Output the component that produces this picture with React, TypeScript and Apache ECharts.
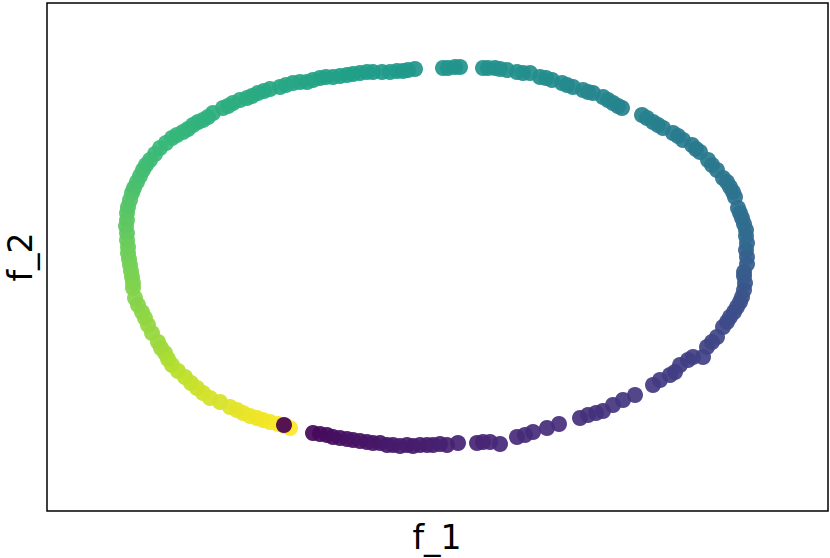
import React, { useEffect, useRef } from "react";
import * as echarts from "echarts";

// f_1 coordinate of each point (arbitrary embedding units)
const f1Values = [
  -124, -117, -110, -104, -97, -90, -84, -77, -70, -64, -57, -50, -44, -37, -30, -24, -17, -10, -4, 3,
  10, 21, 40, 46, 53, 63, 80, 88, 96, 110, 122, 143, 151, 159, 166, 176, 186, 198, 216, 223,
  233, 238, 243, 251, 256, 266, 270, 275, 280, 286, 290, 293, 297, 300, 303, 305, 307, 308, 307, 307,
  310, 310, 309, 310, 309, 309, 307, 305, 303, 301, 298, 296, 293, 290, 286, 280, 275, 271, 263, 259,
  255, 246, 241, 236, 226, 221, 216, 210, 205, 185, 181, 176, 171, 166, 156, 151, 146, 136, 130, 125,
  115, 109, 103, 93, 86, 80, 70, 63, 58, 51, 46, 23, 18, 11, 6, -22, -29, -34, -40, -47,
  -55, -64, -70, -77, -84, -90, -97, -104, -111, -117, -124, -130, -137, -144, -151, -157, -167, -173, -179, -185,
  -190, -197, -204, -209, -214, -224, -229, -234, -239, -244, -249, -254, -260, -265, -271, -277, -282, -287, -291, -294,
  -297, -300, -303, -305, -307, -309, -310, -310, -311, -310, -310, -309, -309, -308, -307, -306, -305, -304, -304, -302,
  -299, -295, -292, -289, -285, -279, -276, -272, -269, -265, -259, -252, -246, -240, -234, -227, -217, -207, -200, -194,
  -187, -180, -174, -167, -159, -152, -147, -153,
];
// f_2 coordinate of each point
const f2Values = [
  -176, -177, -178, -180, -181, -182, -183, -184, -185, -186, -186, -188, -188, -189, -188, -189, -188, -188, -188, -187,
  -188, -186, -186, -185, -185, -187, -180, -178, -175, -171, -167, -161, -158, -156, -154, -148, -143, -138, -128, -123,
  -118, -115, -108, -103, -100, -100, -90, -85, -80, -70, -65, -60, -55, -50, -45, -40, -33, -26, -19, -15,
  -7, 0, 7, 14, 21, 27, 33, 39, 44, 49, 60, 65, 70, 75, 79, 87, 92, 97, 105, 108,
  112, 117, 121, 124, 129, 132, 135, 139, 142, 149, 151, 154, 157, 160, 164, 165, 167, 170, 172, 174,
  177, 179, 180, 184, 184, 185, 187, 188, 189, 189, 189, 190, 190, 189, 189, 188, 187, 186, 186, 185,
  185, 185, 185, 184, 183, 182, 181, 180, 180, 179, 177, 175, 175, 174, 172, 170, 168, 166, 164, 161,
  159, 157, 154, 151, 149, 144, 140, 137, 135, 132, 128, 125, 122, 119, 114, 109, 103, 97, 92, 87,
  81, 75, 69, 64, 57, 50, 44, 37, 31, 24, 17, 10, 4, -2, -8, -14, -20, -26, -31, -41,
  -48, -55, -61, -68, -76, -85, -91, -96, -102, -108, -114, -120, -126, -131, -136, -141, -145, -150, -153, -156,
  -159, -161, -163, -165, -167, -169, -171, -168,
];
// colour value (position along the original manifold)
const tValues = [
  0.02, 0.025, 0.03, 0.035, 0.04, 0.045, 0.05, 0.05, 0.055, 0.06, 0.06, 0.065, 0.07, 0.07, 0.075, 0.075, 0.08, 0.08, 0.085, 0.085,
  0.09, 0.095, 0.1, 0.1, 0.105, 0.11, 0.115, 0.12, 0.12, 0.125, 0.13, 0.135, 0.14, 0.14, 0.145, 0.15, 0.155, 0.16, 0.17, 0.175,
  0.18, 0.18, 0.185, 0.19, 0.19, 0.195, 0.2, 0.205, 0.21, 0.22, 0.225, 0.23, 0.235, 0.24, 0.245, 0.25, 0.26, 0.27, 0.28, 0.285,
  0.29, 0.3, 0.31, 0.33, 0.34, 0.345, 0.35, 0.355, 0.36, 0.365, 0.37, 0.375, 0.38, 0.385, 0.39, 0.395, 0.4, 0.4, 0.405, 0.41,
  0.41, 0.415, 0.42, 0.42, 0.425, 0.43, 0.43, 0.435, 0.44, 0.445, 0.45, 0.45, 0.455, 0.46, 0.46, 0.465, 0.465, 0.47, 0.47, 0.475,
  0.48, 0.48, 0.485, 0.49, 0.49, 0.495, 0.495, 0.5, 0.5, 0.505, 0.505, 0.51, 0.515, 0.515, 0.52, 0.525, 0.53, 0.53, 0.535, 0.54,
  0.54, 0.545, 0.55, 0.55, 0.555, 0.56, 0.56, 0.565, 0.57, 0.57, 0.575, 0.58, 0.58, 0.585, 0.59, 0.59, 0.595, 0.6, 0.6, 0.605,
  0.61, 0.615, 0.62, 0.62, 0.625, 0.63, 0.635, 0.64, 0.64, 0.645, 0.65, 0.655, 0.66, 0.66, 0.665, 0.67, 0.675, 0.68, 0.685, 0.69,
  0.695, 0.7, 0.705, 0.71, 0.72, 0.725, 0.73, 0.74, 0.745, 0.75, 0.76, 0.77, 0.775, 0.78, 0.785, 0.79, 0.795, 0.8, 0.805, 0.81,
  0.815, 0.82, 0.83, 0.835, 0.84, 0.845, 0.85, 0.86, 0.87, 0.88, 0.89, 0.9, 0.91, 0.92, 0.93, 0.935, 0.94, 0.95, 0.96, 0.965,
  0.97, 0.975, 0.98, 0.985, 0.99, 0.995, 1.0, 0.0,
];

const xLabel = "f_1";
const yLabel = "f_2";

const viridis = [
  "#440154", "#482878", "#3e4989", "#31688e", "#26828e",
  "#1f9e89", "#35b779", "#6ece58", "#b5de2b", "#fde725",
];

export default function App() {
  const ref = useRef<HTMLDivElement>(null);
  useEffect(() => {
    if (!ref.current) return;
    const chart = echarts.init(ref.current, undefined, { renderer: "svg" });
    const data = f1Values.map((x, i) => [x, f2Values[i], tValues[i]]);
    chart.setOption({
      animation: false,
      backgroundColor: "#ffffff",
      grid: {
        left: 47,
        top: 3,
        right: 2,
        bottom: 47,
        show: true,
        borderColor: "#000000",
        borderWidth: 1.5,
        backgroundColor: "transparent",
      },
      xAxis: {
        type: "value",
        min: -390,
        max: 391,
        axisLine: { show: false },
        axisTick: { show: false },
        axisLabel: { show: false },
        splitLine: { show: false },
      },
      yAxis: {
        type: "value",
        min: -254,
        max: 254,
        axisLine: { show: false },
        axisTick: { show: false },
        axisLabel: { show: false },
        splitLine: { show: false },
      },
      visualMap: {
        show: false,
        type: "continuous",
        dimension: 2,
        min: 0,
        max: 1,
        inRange: { color: viridis },
      },
      graphic: [
        {
          type: "text",
          x: 437,
          y: 537,
          style: {
            text: xLabel,
            fontSize: 33,
            fontFamily: "DejaVu Sans",
            fill: "#000",
            align: "center",
            verticalAlign: "middle",
          },
        },
        {
          type: "text",
          x: 20,
          y: 257,
          rotation: Math.PI / 2,
          style: {
            text: yLabel,
            fontSize: 33,
            fontFamily: "DejaVu Sans",
            fill: "#000",
            align: "center",
            verticalAlign: "middle",
          },
        },
      ],
      series: [
        {
          type: "scatter",
          data,
          symbolSize: 16,
          itemStyle: { opacity: 0.92 },
        },
      ],
    });
    return () => chart.dispose();
  }, []);
  return (
    <div
      ref={ref}
      style={{ position: "fixed", left: 0, top: 0, width: 830, height: 558 }}
    />
  );
}
